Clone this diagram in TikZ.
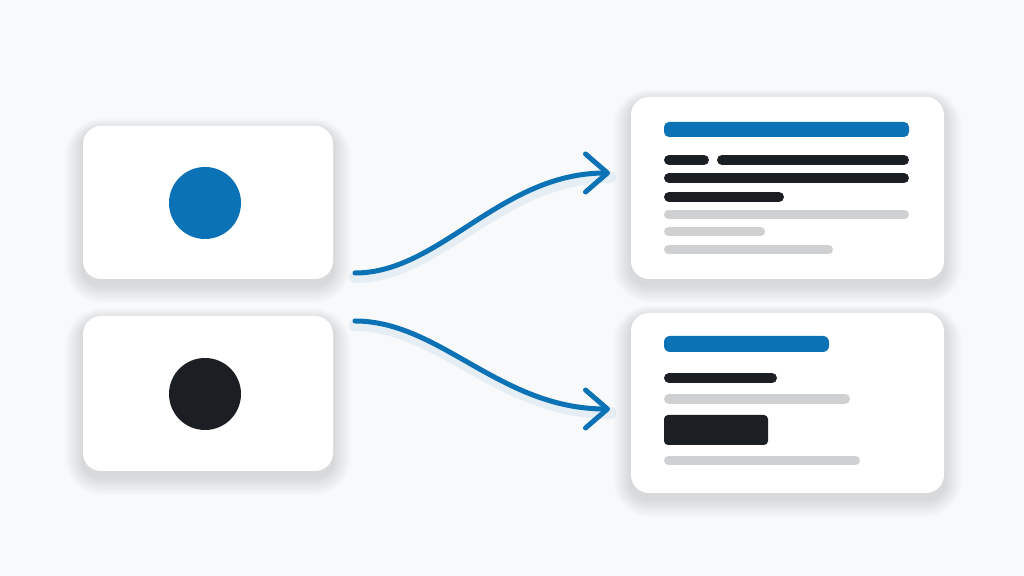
\documentclass[tikz,border=0pt]{standalone}
\usetikzlibrary{arrows.meta,backgrounds}
\definecolor{bgc}{HTML}{F8F9FA}
\definecolor{acc}{HTML}{0B72B5}
\definecolor{ink}{HTML}{1B1F24}
\definecolor{soft}{HTML}{CFD0D2}
\tikzset{
  card/.style={fill=white, rounded corners=9pt, inner sep=0pt},
  dot/.style={circle, minimum size=36pt, inner sep=0pt},
  pill/.style={line width=#1, line cap=round},
  flow/.style={draw=acc, line width=2.5pt, line cap=round, line join=round,
    -{Straight Barb[length=11pt,width=19pt,line width=2.5pt,round]}},
  glow/.style={draw=acc, line width=6pt, opacity=0.08, line cap=round},
}
\newcommand{\cardshade}[1]{%
  \foreach \i in {1,...,16}{%
    \fill[black, opacity=0.009, rounded corners=9pt+\i*0.6pt]
      ([xshift=-\i*0.55pt, yshift=-3pt-\i*0.55pt]#1.south west) rectangle
      ([xshift=\i*0.55pt, yshift=-2pt+\i*0.35pt]#1.north east);
  }%
}
\begin{document}
\begin{tikzpicture}[x=0.5pt,y=-0.5pt]
\useasboundingbox (0,0) rectangle (1024,576);
% cards
\node[card, minimum width=125pt, minimum height=76.5pt] (inA) at (208,202.5) {};
\node[card, minimum width=125pt, minimum height=77.5pt] (inB) at (208,393.5) {};
\node[card, minimum width=156.5pt, minimum height=91pt] (outA) at (787.5,188) {};
\node[card, minimum width=156.5pt, minimum height=90pt] (outB) at (787.5,403) {};
\begin{scope}[on background layer]
  \fill[bgc] (0,0) rectangle (1024,576);
  \cardshade{inA}
  \cardshade{inB}
  \cardshade{outA}
  \cardshade{outB}
\end{scope}
% dots
\node[dot, fill=acc] (dotA) at (205,203) {};
\node[dot, fill=ink] (dotB) at (205,394) {};
% output card A content
\fill[acc, rounded corners=2.5pt] (664,122) rectangle (909,137);
\draw[ink, pill=5pt] (669,160) -- (704,160);
\draw[ink, pill=5pt] (722,160) -- (904,160);
\draw[ink, pill=5pt] (669,178) -- (904,178);
\draw[ink, pill=5pt] (669,197) -- (779,197);
\draw[soft, pill=4.5pt] (668.5,214.5) -- (904.5,214.5);
\draw[soft, pill=4.5pt] (668.5,231.5) -- (760.5,231.5);
\draw[soft, pill=4.5pt] (668.5,249.5) -- (828.5,249.5);
% output card B content
\fill[acc, rounded corners=3pt] (664,336) rectangle (829,352);
\draw[ink, pill=5pt] (669,378) -- (772,378);
\draw[soft, pill=5pt] (669,399) -- (845,399);
\fill[ink, rounded corners=2pt] (664,415) rectangle (768,445);
\draw[soft, pill=4.5pt] (668.5,460.5) -- (855.5,460.5);
% connectors
\coordinate (sA) at (355,273);
\coordinate (eA) at (610,173);
\coordinate (sB) at (355,321);
\coordinate (eB) at (610,409);
\draw[glow] ([yshift=-2pt]sA) .. controls ([yshift=-2pt]440,273) and ([yshift=-2pt]500,173) .. ([yshift=-2pt]eA);
\draw[glow] ([yshift=-2pt]sB) .. controls ([yshift=-2pt]440,321) and ([yshift=-2pt]500,409) .. ([yshift=-2pt]eB);
\draw[flow] (sA) .. controls (440,273) and (500,173) .. (eA);
\draw[flow] (sB) .. controls (440,321) and (500,409) .. (eB);
\end{tikzpicture}
\end{document}
